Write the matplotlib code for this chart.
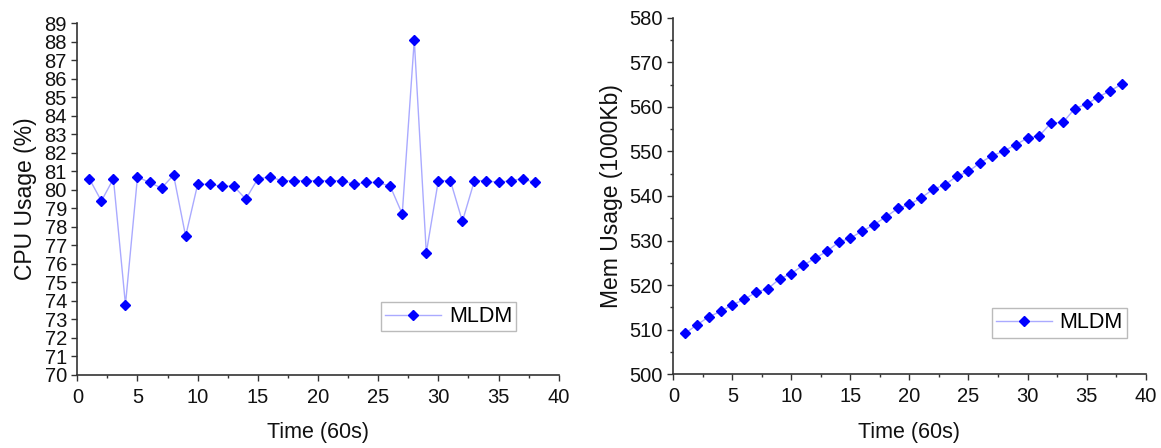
import matplotlib
matplotlib.use("Agg")
import matplotlib.pyplot as plt
from matplotlib.ticker import MultipleLocator

plt.rcParams["font.family"] = ["Liberation Sans", "DejaVu Sans"]

# time steps (60s each)
time_steps = list(range(1, 39))

cpu_usage = [80.6, 79.4, 80.6, 73.8, 80.7, 80.4, 80.1, 80.8, 77.5, 80.3,
             80.3, 80.2, 80.2, 79.5, 80.6, 80.7, 80.5, 80.5, 80.5, 80.5,
             80.5, 80.5, 80.3, 80.4, 80.4, 80.2, 78.7, 88.1, 76.6, 80.5,
             80.5, 78.3, 80.5, 80.5, 80.4, 80.5, 80.6, 80.4]

mem_usage = [509.2, 511.1, 512.9, 514.1, 515.6, 516.8, 518.4, 519.2, 521.4, 522.6,
             524.5, 526.0, 527.6, 529.6, 530.6, 532.1, 533.6, 535.3, 537.2, 538.1,
             539.6, 541.5, 542.5, 544.4, 545.5, 547.5, 549.0, 550.1, 551.5, 553.0,
             553.5, 556.4, 556.5, 559.6, 560.6, 562.2, 563.6, 565.1]

series_label = "MLDM"
line_color = "#aaaaff"
marker_color = "#0000ff"
text_color = "#111111"


def style_axes(ax):
    for side in ["top", "right"]:
        ax.spines[side].set_visible(False)
    for side in ["left", "bottom"]:
        ax.spines[side].set_color("#333333")
        ax.spines[side].set_linewidth(1.2)
    ax.tick_params(which="major", direction="out", length=4.5, width=1,
                   color="#333333", labelsize=14.5, labelcolor=text_color)
    ax.tick_params(which="minor", direction="out", length=2.5, width=1,
                   color="#333333")
    ax.tick_params(axis="x", which="major", pad=5)
    ax.set_xlim(0, 40)
    ax.xaxis.set_major_locator(MultipleLocator(5))
    ax.xaxis.set_minor_locator(MultipleLocator(2.5))
    ax.set_xlabel("Time (60s)", fontsize=15.5, color=text_color, labelpad=11)


def draw_series(ax, y, loc):
    ax.plot(time_steps, y, color=line_color, linewidth=1, marker="D",
            markersize=5.6, markerfacecolor=marker_color,
            markeredgecolor=marker_color, label=series_label, clip_on=False)
    leg = ax.legend(loc="upper left", bbox_to_anchor=loc, fontsize=15.5,
                    frameon=True, fancybox=False, handlelength=2.6,
                    borderpad=0.2, handletextpad=0.35, borderaxespad=0,
                    markerscale=0.85)
    leg.get_frame().set_edgecolor("#aaaaaa")
    leg.get_frame().set_linewidth(1)


fig = plt.figure(figsize=(11.61, 4.48), dpi=100)

ax1 = fig.add_axes([0.0666, 0.163, 0.4146, 0.785])
style_axes(ax1)
ax1.set_ylim(70, 89)
ax1.yaxis.set_major_locator(MultipleLocator(1))
ax1.tick_params(axis="y", pad=3)
ax1.set_ylabel("CPU Usage (%)", fontsize=16.5, color=text_color, labelpad=5)
draw_series(ax1, cpu_usage, (0.631, 0.208))

ax2 = fig.add_axes([0.580, 0.1645, 0.4067, 0.796])
style_axes(ax2)
ax2.set_ylim(500, 580)
ax2.yaxis.set_major_locator(MultipleLocator(10))
ax2.yaxis.set_minor_locator(MultipleLocator(5))
ax2.tick_params(axis="y", pad=3)
ax2.set_ylabel("Mem Usage (1000Kb)", fontsize=16.5, color=text_color, labelpad=5)
draw_series(ax2, mem_usage, (0.6745, 0.186))

fig.savefig("out.png", dpi=100)
